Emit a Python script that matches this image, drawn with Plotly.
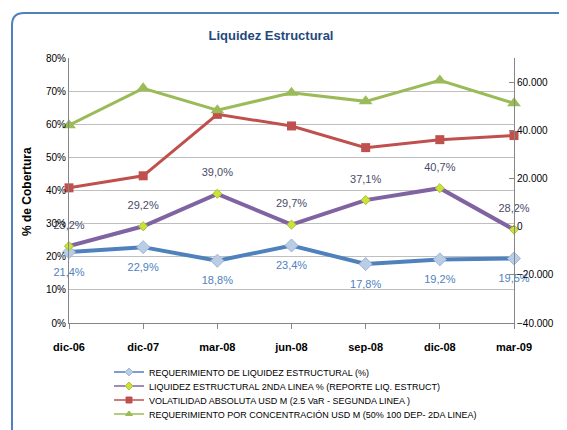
import plotly.graph_objects as go

categories = ["dic-06", "dic-07", "mar-08", "jun-08", "sep-08", "dic-08", "mar-09"]
req_liquidez = [0.214, 0.229, 0.188, 0.234, 0.178, 0.192, 0.195]
liq_2nda = [0.232, 0.292, 0.390, 0.297, 0.371, 0.407, 0.282]
volatilidad = [16100, 21100, 46600, 41800, 32800, 36100, 37800]
concentracion = [42100, 57400, 48300, 55600, 52000, 60700, 51200]

names = [
    "REQUERIMIENTO DE LIQUIDEZ ESTRUCTURAL (%)",
    "LIQUIDEZ ESTRUCTURAL 2NDA LINEA % (REPORTE LIQ. ESTRUCT)",
    "VOLATILIDAD ABSOLUTA USD M (2.5 VaR - SEGUNDA LINEA )",
    "REQUERIMIENTO POR CONCENTRACIÓN USD M (50% 100 DEP- 2DA LINEA)",
]

x = list(range(len(categories)))
FONT = "Liberation Sans"
OFF = 8                      # page body margin
CW, CH = 567 - OFF, 430 - OFF

styles = [
    dict(color="#4F81BD", lw=4, sym="diamond", ms=10, mc="#B9CDE5", ml="#9DB5D8"),
    dict(color="#8064A2", lw=4, sym="diamond", ms=7, mc="#C9E33A", ml="#A8C030"),
    dict(color="#C0504D", lw=3, sym="square", ms=9, mc="#C0504D", ml="#C0504D"),
    dict(color="#9BBB59", lw=3, sym="triangle-up", ms=12, mc="#9BBB59", ml="#9BBB59"),
]

fig = go.Figure()
fig.add_trace(go.Scatter(
    x=x, y=volatilidad, name=names[2], yaxis="y2", mode="lines+markers",
    line=dict(color=styles[2]["color"], width=styles[2]["lw"]),
    marker=dict(symbol=styles[2]["sym"], size=styles[2]["ms"], color=styles[2]["mc"]),
    cliponaxis=False, showlegend=False))
fig.add_trace(go.Scatter(
    x=x, y=concentracion, name=names[3], yaxis="y2", mode="lines+markers",
    line=dict(color=styles[3]["color"], width=styles[3]["lw"]),
    marker=dict(symbol=styles[3]["sym"], size=styles[3]["ms"], color=styles[3]["mc"]),
    cliponaxis=False, showlegend=False))
fig.add_trace(go.Scatter(
    x=x, y=req_liquidez, name=names[0], mode="lines+markers",
    line=dict(color=styles[0]["color"], width=styles[0]["lw"]),
    marker=dict(symbol=styles[0]["sym"], size=styles[0]["ms"], color=styles[0]["mc"],
                line=dict(color=styles[0]["ml"], width=1)),
    cliponaxis=False, showlegend=False))
fig.add_trace(go.Scatter(
    x=x, y=liq_2nda, name=names[1], mode="lines+markers",
    line=dict(color=styles[1]["color"], width=styles[1]["lw"]),
    marker=dict(symbol=styles[1]["sym"], size=styles[1]["ms"], color=styles[1]["mc"],
                line=dict(color=styles[1]["ml"], width=1)),
    cliponaxis=False, showlegend=False))

# data labels (transparent larger markers give Excel-like label offset)
fig.add_trace(go.Scatter(
    x=x, y=req_liquidez, mode="markers+text", hoverinfo="skip",
    marker=dict(size=23, color="rgba(0,0,0,0)"),
    texttemplate="%{y:.1%}", textposition="bottom center",
    textfont=dict(family=FONT, size=11, color="#4F81BD"),
    cliponaxis=False, showlegend=False))
fig.add_trace(go.Scatter(
    x=x, y=liq_2nda, mode="markers+text", hoverinfo="skip",
    marker=dict(size=22, color="rgba(0,0,0,0)"),
    texttemplate="%{y:.1%}", textposition="top center",
    textfont=dict(family=FONT, size=11, color="#4A4A68"),
    cliponaxis=False, showlegend=False))

# legend-only entries, each in its own legend for Excel-like tight spacing
legend_ids = ["legend", "legend2", "legend3", "legend4"]
legend_y = [372, 386, 400, 414]          # screen px
for i, nm in enumerate(names):
    s = styles[i]
    fig.add_trace(go.Scatter(
        x=[None], y=[None], name=nm, mode="lines+markers",
        line=dict(color=s["color"], width=1.5),
        marker=dict(symbol=s["sym"], size=6, color=s["mc"],
                    line=dict(color=s["ml"], width=1)),
        legend=legend_ids[i], showlegend=True))

# plot area, screen px -> figure px
L, R, T, B = 69 - OFF, 514 - OFF, 58 - OFF, 323 - OFF
W, H = R - L, B - T
def px(v): return (v - OFF - L) / W
def py(v): return (B - (v - OFF)) / H
x0, y0, x1, y1, r = 12, 13, 600, 460, 12
path = (f"M {px(x0)},{py(y1)} L {px(x0)},{py(y0 + r)} "
        f"Q {px(x0)},{py(y0)} {px(x0 + r)},{py(y0)} L {px(x1)},{py(y0)}")

legend_common = dict(xref="container", yref="container", xanchor="left", yanchor="middle",
                     font=dict(family=FONT, size=9, color="#000000"),
                     bgcolor="rgba(0,0,0,0)", borderwidth=0, itemwidth=30)
legends = {}
for i, lid in enumerate(legend_ids):
    legends[lid] = dict(x=(109 - OFF) / CW, y=1 - (legend_y[i] - OFF) / CH, **legend_common)

fig.update_layout(
    width=CW, height=CH,
    margin=dict(l=L, r=CW - R, t=T, b=CH - B, autoexpand=False),
    paper_bgcolor="white", plot_bgcolor="white",
    separators=",.",
    font=dict(family=FONT, size=11, color="#000000"),
    title=dict(text="<b>Liquidez Estructural</b>", xref="container", x=(271 - OFF) / CW,
               xanchor="center", yref="container", y=1 - (35 - OFF) / CH, yanchor="middle",
               pad=dict(l=0, r=0, t=0, b=0),
               font=dict(family=FONT, size=13, color="#1F497D")),
    xaxis=dict(range=[0, 6], tickvals=x, ticktext=[f"<b>{c}</b>" for c in categories],
               showgrid=False, showline=True, linecolor="#868686", linewidth=1,
               ticks="outside", ticklen=5, tickcolor="#868686", automargin=False,
               ticklabelstandoff=9,
               tickfont=dict(family=FONT, size=11, color="#000000"), zeroline=False),
    yaxis=dict(range=[0, 0.8], dtick=0.1, tick0=0, tickformat=".0%",
               showgrid=True, gridcolor="#BFBFBF", gridwidth=1,
               showline=True, linecolor="#868686", linewidth=1,
               ticks="", zeroline=False, automargin=False,
               tickfont=dict(family=FONT, size=10, color="#000000")),
    yaxis2=dict(range=[-40000, 70000], tickvals=[-40000, -20000, 0, 20000, 40000, 60000],
                tickformat=",.0f", overlaying="y", side="right", showgrid=False,
                showline=True, linecolor="#868686", linewidth=1, automargin=False,
                ticks="inside", ticklen=5, tickcolor="#868686", zeroline=False,
                tickfont=dict(family=FONT, size=10, color="#000000")),
    annotations=[dict(text="<b>% de Cobertura</b>", textangle=-90,
                      xref="paper", yref="paper", x=px(27), y=py(192),
                      xanchor="center", yanchor="middle", showarrow=False,
                      font=dict(family=FONT, size=12, color="#000000"))],
    shapes=[dict(type="path", path=path, xref="paper", yref="paper",
                 line=dict(color="#4F81BD", width=2), layer="above")],
    **legends,
)

fig.write_html("out.html")
